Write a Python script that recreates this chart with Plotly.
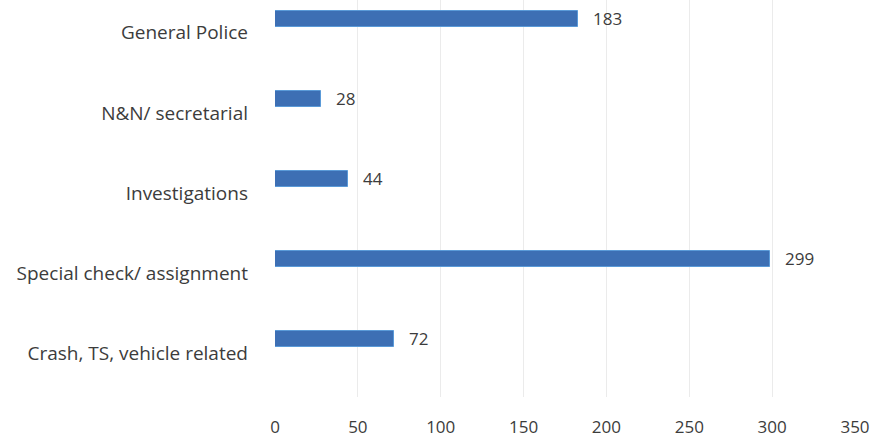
import plotly.graph_objects as go

categories = ["General Police", "N&N/ secretarial", "Investigations",
              "Special check/ assignment", "Crash, TS, vehicle related"]
values = [183, 28, 44, 299, 72]
x_ticks = [0, 50, 100, 150, 200, 250, 300, 350]

# bottom-to-top order for the category axis
cats_rev = categories[::-1]
vals_rev = values[::-1]

font_family = "Open Sans, Noto Sans, sans-serif"
text_color = "#3c3c3c"

fig = go.Figure()
fig.add_trace(go.Bar(
    y=cats_rev, x=vals_rev, orientation="h",
    width=0.2, offset=0.075,
    marker=dict(color="#3d6fb4", line=dict(color="#5a9ad8", width=1)),
    showlegend=False, hoverinfo="x+y",
))

for c, v in zip(cats_rev, vals_rev):
    fig.add_annotation(x=v, y=c, text=str(v), showarrow=False,
                       xanchor="left", yanchor="middle", xshift=13, yshift=14,
                       font=dict(family=font_family, size=17, color=text_color))

fig.update_layout(
    width=877, height=447,
    margin=dict(l=275, r=22, t=0, b=50),
    paper_bgcolor="white", plot_bgcolor="white",
    font=dict(family=font_family, size=17, color=text_color),
    bargap=0,
)
fig.update_xaxes(range=[0, 350], tickvals=x_ticks, showgrid=True,
                 gridcolor="#ebebeb", gridwidth=1, zeroline=False,
                 showline=False, ticks="", ticklabelstandoff=18,
                 tickfont=dict(size=17, color=text_color))
fig.update_yaxes(type="category", categoryorder="array", categoryarray=cats_rev,
                 range=[-0.55, 4.41], showgrid=False, zeroline=False,
                 showline=False, ticks="", ticklabelstandoff=26,
                 tickfont=dict(size=19, color=text_color))

fig.write_html("out.html")
